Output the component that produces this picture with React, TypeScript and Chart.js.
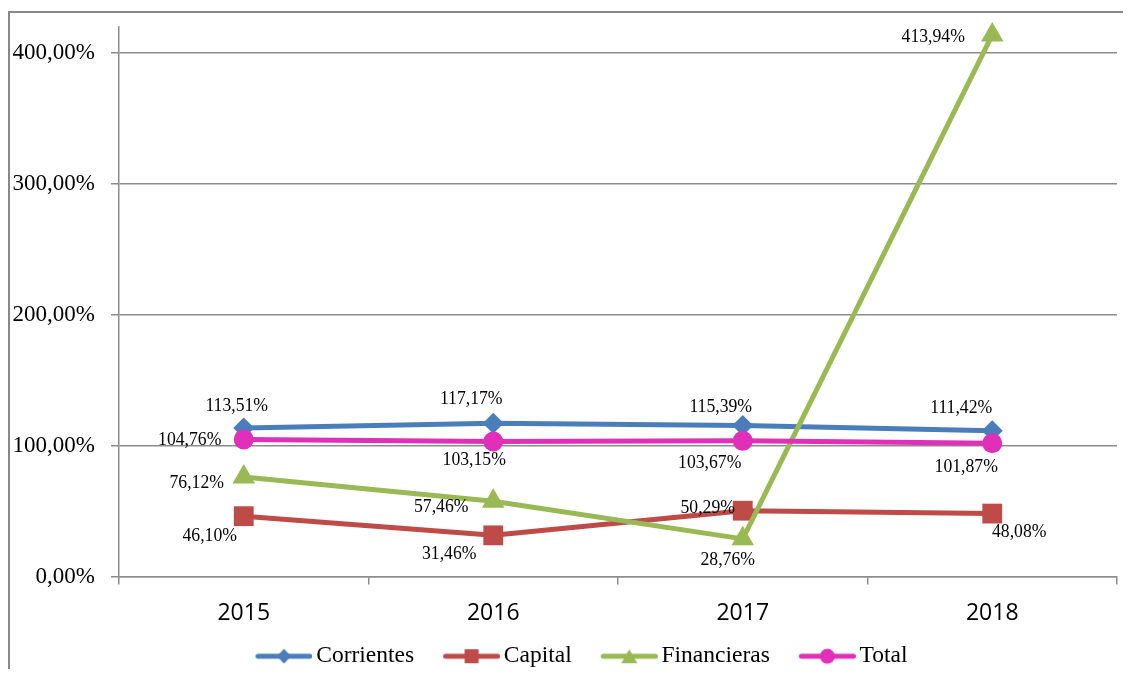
import React, { useEffect, useRef } from "react";
import { Chart, registerables } from "chart.js";

Chart.register(...registerables);

// ---- data ----
const categories = ["2015", "2016", "2017", "2018"];
const seriesNames = ["Corrientes", "Capital", "Financieras", "Total"];
const corrientes = [113.51, 117.17, 115.39, 111.42];
const capital = [46.1, 31.46, 50.29, 48.08];
const financieras = [76.12, 57.46, 28.76, 413.94];
const total = [104.76, 103.15, 103.67, 101.87];
const yTickValues = [0, 100, 200, 300, 400];

// ---- styles ----
const colors = ["#4a7ebb", "#be4b48", "#98b954", "#e02fb8"];
const pointStyles = ["rectRot", "rect", "triangle", "circle"];
const pointRadii = [10.5, 14, 13, 10];
const iconShapes = ["diamond", "square", "triangle", "circle"];
// label text-centre offsets from each point (px), per series per category
const labelOffsets: number[][][] = [
  [[-7, -22], [-22, -24], [-22, -19], [-31, -23]],
  [[-34, 20], [-44, 19], [-35, -3], [27, 18]],
  [[-47, 6], [-52, 6], [-15, 21], [-59, 2]],
  [[-54, 1], [-19, 18], [-33, 22], [-26, 24]],
];

const SERIF = '"Liberation Serif", "Times New Roman", serif';
const GRID = "#8c8c8c";

const fmt = (v: number) => v.toFixed(2).replace(".", ",") + "%";

// legend icon: line + marker, drawn into a canvas used as point style
const ICON_W = 74;
function makeIcon(color: string, shape: string) {
  const c = document.createElement("canvas");
  c.width = ICON_W;
  c.height = 24;
  const g = c.getContext("2d")!;
  g.strokeStyle = color;
  g.lineWidth = 5;
  g.lineCap = "round";
  g.beginPath();
  g.moveTo(19.5, 12);
  g.lineTo(71.5, 12);
  g.stroke();
  g.fillStyle = color;
  const cx = 45.5, cy = 12;
  g.beginPath();
  if (shape === "diamond") {
    g.moveTo(cx, cy - 7.5);
    g.lineTo(cx + 7, cy);
    g.lineTo(cx, cy + 7.5);
    g.lineTo(cx - 7, cy);
    g.closePath();
  } else if (shape === "square") {
    g.rect(cx - 7, cy - 7, 14, 14);
  } else if (shape === "triangle") {
    g.moveTo(cx, cy - 7);
    g.lineTo(cx + 8, cy + 7);
    g.lineTo(cx - 8, cy + 7);
    g.closePath();
  } else {
    g.arc(cx, cy, 7.5, 0, Math.PI * 2);
  }
  g.fill();
  return c;
}

const dataLabelPlugin = {
  id: "dataLabels",
  afterDatasetsDraw(chart: any) {
    const ctx = chart.ctx as CanvasRenderingContext2D;
    chart.data.datasets.forEach((ds: any, di: number) => {
      const meta = chart.getDatasetMeta(di);
      meta.data.forEach((pt: any, i: number) => {
        const v = ds.data[i] as number;
        const [dx, dy] = labelOffsets[di][i];
        ctx.save();
        ctx.font = `19px ${SERIF}`;
        ctx.fillStyle = "#000";
        ctx.textAlign = "center";
        ctx.textBaseline = "middle";
        ctx.translate(pt.x + dx, pt.y + dy);
        ctx.scale(0.93, 1);
        ctx.fillText(fmt(v), 0, 0);
        ctx.restore();
      });
    });
  },
};

// nudge the legend block horizontally to sit where the reference has it
const legendShiftPlugin = {
  id: "legendShift",
  afterLayout(chart: any) {
    const lg = chart.legend;
    if (lg) {
      lg.left += 13;
      lg.right += 13;
    }
  },
};

export default function App() {
  const ref = useRef<HTMLCanvasElement>(null);

  useEffect(() => {
    const seriesData = [corrientes, capital, financieras, total];
    const icons = colors.map((c, i) => makeIcon(c, iconShapes[i]));
    const chart = new Chart(ref.current!, {
      type: "line",
      data: {
        labels: categories,
        datasets: seriesNames.map((name, i) => ({
          label: name,
          data: seriesData[i],
          borderColor: colors[i],
          backgroundColor: colors[i],
          borderWidth: 5,
          borderCapStyle: "round",
          borderJoinStyle: "round",
          pointStyle: pointStyles[i] as any,
          pointRadius: pointRadii[i],
          pointBorderWidth: 0,
          pointBackgroundColor: colors[i],
          tension: 0,
          clip: false as any,
          order: 4 - i,
        })),
      },
      options: {
        animation: false,
        responsive: true,
        maintainAspectRatio: false,
        events: [],
        layout: { padding: { top: 12, right: 13, left: 0, bottom: 5 } },
        plugins: {
          tooltip: { enabled: false },
          legend: {
            position: "bottom",
            labels: {
              usePointStyle: true,
              pointStyleWidth: 58,
              padding: 20,
              color: "#000",
              font: { family: SERIF, size: 23.5 },
              generateLabels: (ch: any) =>
                ch.data.datasets.map((ds: any, i: number) => ({
                  text: ds.label,
                  pointStyle: icons[i],
                  fillStyle: colors[i],
                  strokeStyle: colors[i],
                  lineWidth: 0,
                  hidden: false,
                  datasetIndex: i,
                  fontColor: "#000",
                  rotation: 0,
                })),
            },
          },
        },
        scales: {
          x: {
            type: "category",
            offset: true,
            afterFit: (s: any) => {
              s.height = 48;
              s.paddingLeft = 0;
              s.paddingRight = 0;
            },
            grid: {
              offset: true,
              drawOnChartArea: false,
              drawTicks: true,
              tickLength: 8,
              color: GRID,
              lineWidth: 1.5,
            },
            border: { color: GRID, width: 1.5 },
            ticks: {
              color: "#000",
              padding: 15,
              font: { family: '"Open Sans", sans-serif', size: 23 },
            },
          },
          y: {
            min: 0,
            max: 420,
            afterBuildTicks: (s: any) => {
              s.ticks = yTickValues.map((v) => ({ value: v }));
            },
            afterFit: (s: any) => {
              s.width = 109;
              s.paddingTop = 0;
              s.paddingBottom = 0;
            },
            grid: {
              color: GRID,
              lineWidth: 1.5,
              drawTicks: true,
              tickLength: 8,
            },
            border: { color: GRID, width: 1.5 },
            ticks: {
              color: "#000",
              padding: 16,
              font: { family: SERIF, size: 23 },
              callback: (v: any) => fmt(Number(v)),
            },
          },
        },
      },
      plugins: [dataLabelPlugin, legendShiftPlugin],
    } as any);
    return () => chart.destroy();
  }, []);

  return (
    <div
      style={{
        position: "relative",
        top: 3,
        width: 1121,
        height: 659,
        borderLeft: "2px solid #888",
        borderTop: "2px solid #888",
        overflow: "hidden",
      }}
    >
      <div style={{ position: "relative", width: 1121, height: 670 }}>
        <canvas ref={ref} />
      </div>
    </div>
  );
}
